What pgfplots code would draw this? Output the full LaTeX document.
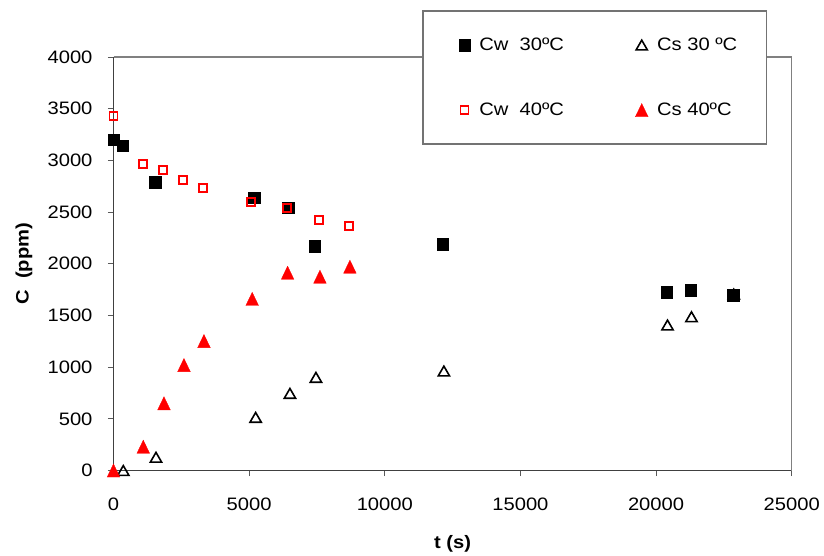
\documentclass[border=0pt]{standalone}
\usepackage{fontspec}
\setmainfont{Liberation Sans}[FakeStretch=1.12]
\usepackage{pgfplots}
\usepackage{pgfplotstable}
\pgfplotsset{compat=1.18}

% Cw and Cs at 30 and 40 C
\pgfplotstableread{
t C
0 3200
340 3140
1530 2790
5190 2640
6440 2540
7425 2170
12130 2190
20385 1725
21270 1745
22840 1695
}\cwthirty
\pgfplotstableread{
t C
361 0
1566 128
5240 514
6504 746
7462 901
12179 962
20422 1407
21306 1487
22865 1707
}\csthirty
\pgfplotstableread{
t C
0 3431
1076 2967
1813 2909
2550 2809
3287 2735
5067 2600
6394 2541
7561 2425
8667 2364
}\cwforty
\pgfplotstableread{
t C
0 0
1098 230
1861 650
2598 1020
3335 1252
5113 1660
6418 1913
7610 1874
8715 1971
}\csforty

\begin{document}
\begin{tikzpicture}
\useasboundingbox (0pt,0pt) rectangle (824pt,555pt);
\begin{axis}[
  at={(113.5pt,84.5pt)}, anchor=south west,
  scale only axis, width=678.2pt, height=413.5pt,
  xmin=0, xmax=25000, ymin=0, ymax=4000,
  xtick={0,5000,...,25000}, ytick={0,500,...,4000},
  scaled ticks=false,
  /pgf/number format/1000 sep={},
  /pgf/number format/assume math mode=true,
  axis x line*=bottom, axis y line*=left,
  axis line style={black!75, line width=1.4pt},
  tick align=outside, major tick length=5.5pt,
  tick style={black!65, line width=1pt},
  tick label style={font=\fontsize{18}{20}\selectfont},
  xticklabel style={yshift=-18pt},
  yticklabel style={xshift=-12pt},
  xlabel={t (s)}, ylabel={C\ \ (ppm)},
  label style={font=\bfseries\fontsize{18}{20}\selectfont},
  xlabel style={at={(axis description cs:0.5,-0.1765)}, anchor=center},
  ylabel style={at={(axis description cs:-0.132,0.5)}, anchor=center},
  clip=false,
  legend columns=2,
  legend cell align=left,
  legend image code/.code={\path (-14pt,0pt); \draw[#1] plot coordinates {(0pt,0pt)};},
  legend style={at={(0.455,1.113)}, anchor=north west,
    draw=black!55, line width=1.5pt, fill=white,
    font=\fontsize{18}{20}\selectfont,
    inner xsep=27pt, inner ysep=25pt, row sep=47pt,
    /tikz/every odd column/.append style={column sep=7pt},
    /tikz/column 2/.append style={column sep=61pt}},
]
\draw[black!50, line width=1.4pt] (rel axis cs:0,1) -- (rel axis cs:1,1) -- (rel axis cs:1,0);

\addplot[only marks, mark=square*, mark size=5.75pt,
  mark options={draw=black, fill=black, line width=0.5pt}] table[x=t, y=C] {\cwthirty};
\addlegendentry{Cw\ \ 30ºC}

\addplot[only marks, mark=triangle, mark size=6.5pt,
  mark options={draw=black, fill=white, line width=1.6pt, yshift=-1.6pt}] table[x=t, y=C] {\csthirty};
\addlegendentry{Cs 30 ºC}

\addplot[only marks, mark=square, mark size=4pt,
  mark options={draw=red, line width=1.8pt}] table[x=t, y=C] {\cwforty};
\addlegendentry{Cw\ \ 40ºC}

\addplot[only marks, mark=triangle*, mark size=7.3pt,
  mark options={draw=red, fill=red, line width=0.3pt, yscale=1.2, yshift=-1.8pt}] table[x=t, y=C] {\csforty};
\addlegendentry{Cs 40ºC}
\end{axis}
\end{tikzpicture}
\end{document}
